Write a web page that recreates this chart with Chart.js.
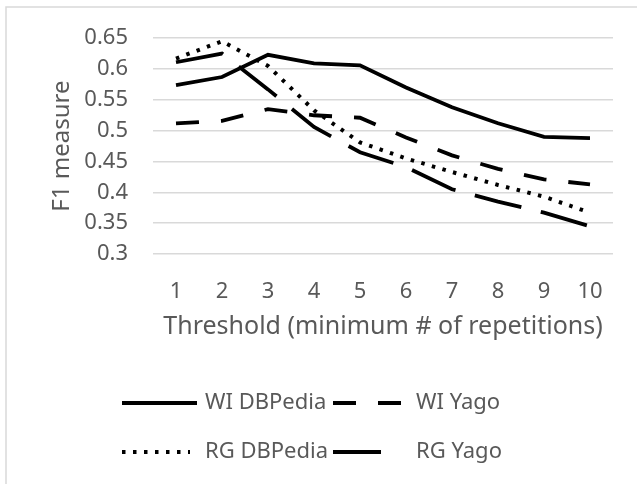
<!DOCTYPE html>
<html>
<head>
<meta charset="utf-8">
<script src="https://cdn.jsdelivr.net/npm/chart.js@4.4.1/dist/chart.umd.min.js"></script>
<style>
  html, body { margin: 0; padding: 0; background: #fff; }
  #wrap { width: 637px; height: 484px; }
</style>
</head>
<body>
<div id="wrap"><canvas id="myChart" width="637" height="484"></canvas></div>
<script>
// thresholds on the x axis
const categories = ['1', '2', '3', '4', '5', '6', '7', '8', '9', '10'];

// F1 values
const wiDbpedia = [0.574, 0.587, 0.623, 0.609, 0.606, 0.570, 0.538, 0.512, 0.490, 0.488];
const wiYago    = [0.512, 0.516, 0.535, 0.525, 0.521, 0.489, 0.460, 0.438, 0.421, 0.413];
const rgDbpedia = [0.617, 0.645, 0.605, 0.533, 0.481, 0.455, 0.433, 0.412, 0.393, 0.367];
const rgYago    = [0.611, 0.625, 0.567, 0.506, 0.465, 0.441, 0.405, 0.385, 0.367, 0.345];

const yMin = 0.3;
const yMax = 0.65;
const yStep = 0.05;

const textColor = '#595959';
const gridColor = '#d9d9d9';
const fontFamily = '"Noto Sans", "Open Sans", sans-serif';

// grey frame like the office chart border
const framePlugin = {
    id: 'frame',
    beforeDraw(chart) {
        const ctx = chart.ctx;
        ctx.save();
        ctx.fillStyle = '#fff';
        ctx.fillRect(0, 0, chart.width, chart.height);
        ctx.strokeStyle = gridColor;
        ctx.lineWidth = 1.5;
        ctx.beginPath();
        ctx.moveTo(6, chart.height);
        ctx.lineTo(6, 7);
        ctx.lineTo(chart.width, 7);
        ctx.stroke();
        ctx.restore();
    }
};

// two-by-two legend under the axis title
const legendPlugin = {
    id: 'gridLegend',
    afterDraw(chart) {
        const ctx = chart.ctx;
        const cols = [122, 333];
        const rows = [403, 452];
        ctx.save();
        chart.data.datasets.forEach((ds, i) => {
            const x = cols[i % 2];
            const y = rows[Math.floor(i / 2)];
            const dash = ds.borderDash || [];
            const lineLen = dash.length ? 68 : 75;
            ctx.strokeStyle = ds.borderColor;
            ctx.lineWidth = ds.borderWidth;
            ctx.lineCap = 'butt';
            ctx.setLineDash(dash);
            ctx.beginPath();
            ctx.moveTo(x, y);
            ctx.lineTo(x + lineLen, y);
            ctx.stroke();
            ctx.setLineDash([]);
            ctx.fillStyle = textColor;
            ctx.font = '22px ' + fontFamily;
            ctx.textBaseline = 'middle';
            ctx.textAlign = 'left';
            ctx.fillText(ds.label, x + 83, y);
        });
        ctx.restore();
    }
};

const ctx = document.getElementById('myChart');

new Chart(ctx, {
    type: 'line',
    data: {
        labels: categories,
        datasets: [
            { label: 'WI DBPedia', data: wiDbpedia, borderColor: '#000', borderWidth: 3.8, borderDash: [] },
            { label: 'WI Yago', data: wiYago, borderColor: '#000', borderWidth: 3.8, borderDash: [23, 22] },
            { label: 'RG DBPedia', data: rgDbpedia, borderColor: '#000', borderWidth: 4, borderDash: [3.5, 7.5] },
            { label: 'RG Yago', data: rgYago, borderColor: '#000', borderWidth: 3.8, borderDash: [48, 20] }
        ]
    },
    options: {
        responsive: false,
        animation: false,
        layout: { padding: { left: 38, top: 37, right: 24, bottom: 140 } },
        elements: {
            point: { radius: 0, hoverRadius: 0 },
            line: { tension: 0, fill: false }
        },
        plugins: {
            legend: { display: false },
            tooltip: { enabled: false }
        },
        scales: {
            x: {
                offset: true,
                grid: { display: false },
                border: { display: false },
                ticks: {
                    color: textColor,
                    padding: 17,
                    maxRotation: 0,
                    font: { family: fontFamily, size: 22 }
                },
                title: {
                    display: true,
                    text: 'Threshold (minimum # of repetitions)',
                    color: textColor,
                    padding: { top: 0, bottom: 2 },
                    font: { family: fontFamily, size: 25 }
                },
                afterFit(scale) { scale.height = 90; }
            },
            y: {
                min: yMin,
                max: yMax,
                grid: { color: gridColor, lineWidth: 1.5, drawTicks: false },
                border: { display: false },
                ticks: {
                    stepSize: yStep,
                    color: textColor,
                    padding: 25,
                    font: { family: fontFamily, size: 22 },
                    callback: (v) => String(Number(v.toFixed(2)))
                },
                title: {
                    display: true,
                    text: 'F1 measure',
                    color: textColor,
                    padding: { top: 10, bottom: 0 },
                    font: { family: fontFamily, size: 24 }
                },
                afterFit(scale) { scale.width = 115; }
            }
        }
    },
    plugins: [framePlugin, legendPlugin]
});
</script>
</body>
</html>
